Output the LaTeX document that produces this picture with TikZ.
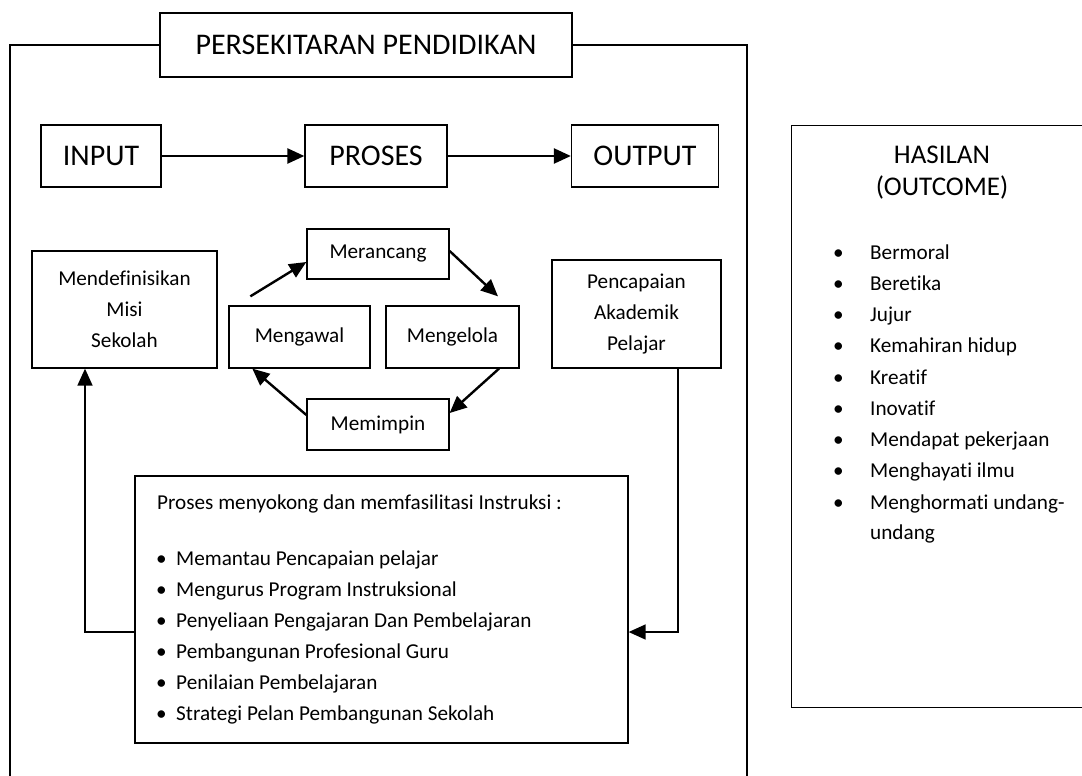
\documentclass[tikz,border=0pt]{standalone}
\usepackage{fontspec}
\setmainfont{Carlito}[Ligatures=NoCommon]
\usetikzlibrary{arrows.meta}
\newcommand{\besar}{\fontsize{30}{34}\selectfont}
\newcommand{\biasa}{\fontsize{21.2}{31}\selectfont}
\tikzset{
	kotak/.style={draw, line width=1.3pt, inner sep=0pt, align=center},
	teks/.style={anchor=base west, inner sep=0pt},
	panah/.style={line width=2.4pt, -{Triangle[length=17pt, width=15pt]}},
	balik/.style={line width=1.6pt, -{Triangle[length=17pt, width=15pt]}},
}

\begin{document}
\begin{tikzpicture}[x=1pt, y=-1pt, font=\biasa]
		\useasboundingbox (0, 0) rectangle (1082, 776);
		% persekitaran
		\node[kotak, minimum width=412, minimum height=64, font=\besar](judul) at (366, 45){PERSEKITARAN PENDIDIKAN};
		\draw[line width=1.3pt](judul.west)--(10, 45)--(10, 776);
		\draw[line width=1.3pt](judul.east)--(747, 45)--(747, 776);
		% input - proses - output
		\node[kotak, minimum width=120, minimum height=62, font=\besar](input) at (101, 156){INPUT};
		\node[kotak, minimum width=142, minimum height=62, font=\besar](proses) at (376, 156){PROSES};
		\node[kotak, minimum width=147, minimum height=62, font=\besar](output) at (645, 156){OUTPUT};
		\draw[panah](input)--(proses);
		\draw[panah](proses)--(output);
		% kitaran pengurusan
		\node[kotak, minimum width=185, minimum height=117](misi) at (124.5, 309.5){Mendefinisikan\\Misi\\Sekolah};
		\node[kotak, minimum width=142, minimum height=50](rancang) at (378, 254){Merancang};
		\node[kotak, minimum width=141, minimum height=62](kawal) at (299.5, 337){Mengawal};
		\node[kotak, minimum width=133, minimum height=62](kelola) at (452.5, 337){Mengelola};
		\node[kotak, minimum width=142, minimum height=51](pimpin) at (378, 424.5){Memimpin};
		\node[kotak, minimum width=169, minimum height=108](capai) at (636.5, 314){Pencapaian\\Akademik\\Pelajar};
		\draw[panah]([xshift=22, yshift=9]kawal.north west)--([yshift=-8]rancang.west);
		\draw[panah]([yshift=3]rancang.east)--([xshift=45.5, yshift=9]kelola.north);
		\draw[panah]([xshift=46.5]kelola.south)--([yshift=11.5]pimpin.east);
		\draw[panah]([yshift=9.5]pimpin.west)--([xshift=24]kawal.south west);
		% proses menyokong
		\node[kotak, minimum width=493, minimum height=267](sokong) at (381.5, 609.5){};
		\node[teks](tajuksokong) at (157, 509){Proses menyokong dan memfasilitasi Instruksi :};
		\foreach \teks [count=\i] in {Memantau Pencapaian pelajar, Mengurus Program Instruksional,
			Penyeliaan Pengajaran Dan Pembelajaran, Pembangunan Profesional Guru,
			Penilaian Pembelajaran, Strategi Pelan Pembangunan Sekolah}
			\node[teks](butir\i) at (156, {565+31*(\i-1)}){\makebox[20pt][l]{\textbullet}\teks};
		\draw[balik]([yshift=-22.5]sokong.west)-|([xshift=-39.5]misi.south);
		\draw[balik]([xshift=41.5]capai.south)|-([yshift=-22.5]sokong.east);
		% hasilan
		\node[kotak, minimum width=330, minimum height=582, anchor=north west](hasil) at (791, 125){};
		\node[align=center, font=\fontsize{27}{32}\selectfont](tajukhasil) at (942, 173){HASILAN\\(OUTCOME)};
		\foreach \teks [count=\i] in {Bermoral, Beretika, Jujur, Kemahiran hidup, Kreatif, Inovatif,
			Mendapat pekerjaan, Menghayati ilmu, Menghormati undang-}
			\node[teks](hasil\i) at (833, {259+31.25*(\i-1)}){\makebox[37pt][l]{\textbullet}\teks};
		\node[teks](hasil10) at (870, 539){undang};
	\end{tikzpicture}
\end{document}
